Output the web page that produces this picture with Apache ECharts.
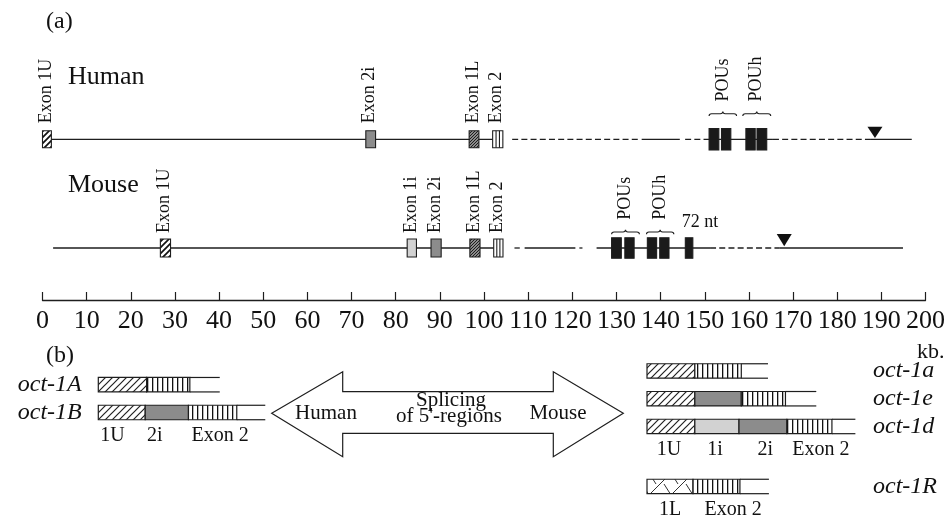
<!DOCTYPE html>
<html><head><meta charset="utf-8">
<script src="https://cdn.jsdelivr.net/npm/echarts@6/dist/echarts.min.js"></script>
<style>html,body{margin:0;padding:0;background:#fff}#c{width:948px;height:519px}</style>
</head><body><div id="c"></div>
<script>
// ---------------- DATA ----------------
// kb scale
const kbTicks = [0,10,20,30,40,50,60,70,80,90,100,110,120,130,140,150,160,170,180,190,200];

// Human locus: [startKb, endKb, kind, label]
const humanExons = [[0,2.0,'hatch','Exon 1U'],[72.9,75.1,'grey','Exon 2i'],[96.2,98.4,'dense','Exon 1L'],[101.5,103.8,'exon2','Exon 2']];
const humanPou = [[150.3,152.5],[153.1,155.2],[158.6,160.7],[161.1,163.3]];
const humanLine = [[0,103.8,'solid'],[105.9,134.7,'dashed'],[135.1,143.7,'solid'],[144.9,150.3,'dashed'],[150.3,164.7,'solid'],[164.7,186.6,'dashed'],[186.6,196.0,'solid']];
const humanDomains = [[150.3,156.5,'POUs'],[157.9,164.2,'POUh']];
const humanPolyA = [187.7];

// Mouse locus
const mouseExons = [[26.7,29.0,'hatch','Exon 1U'],[82.6,84.7,'light','Exon 1i'],[88.0,90.3,'grey','Exon 2i'],[96.8,99.1,'dense','Exon 1L'],[102.2,104.3,'exon2','Exon 2']];
const mousePou = [[128.9,131.1],[131.9,134.0],[137.0,139.1],[139.8,141.9],[145.6,147.3]];
const mouseLine = [[2.4,104.3,'solid'],[106.9,108.1,'solid'],[109.2,120.7,'solid'],[121.6,122.3,'solid'],[125.5,151.2,'solid'],[151.2,167.0,'dashed'],[167.0,194.9,'solid']];
const mouseDomains = [[128.9,135.2,'POUs'],[136.8,143.0,'POUh']];
const mouseNotes = [[148.9,'72 nt']];
const mousePolyA = [168.0];

// Panel (b): splice variants, segment lengths in exon-block units
const humanIsoforms = ['oct-1A','oct-1B'];
const humanSegments = [
  [['hatch',1.05],['stripe',0.94],['open',0.65]],
  [['hatch',1.02],['grey',0.94],['stripe',1.05],['open',0.62]]
];
const humanSegLabels = [['1U',0.31],['2i',1.23],['Exon 2',2.65]];

const mouseIsoforms = ['oct-1a','oct-1e','oct-1d'];
const mouseSegments = [
  [['hatch',1.04],['stripe',1.01],['open',0.58]],
  [['hatch',1.04],['grey',1.01],['stripe',0.96],['open',0.67]],
  [['hatch',1.04],['light',0.96],['grey',1.04],['stripe',0.98],['open',0.51]]
];
const mouseSegLabels = [['1U',0.48],['1i',1.48],['2i',2.57],['Exon 2',3.78]];

const altIsoforms = ['oct-1R'];
const altSegments = [[['cross',1.0],['stripe',1.02],['open',0.63]]];
const altSegLabels = [['1L',0.5],['Exon 2',1.87]];

// ---------------- STYLE ----------------
const SERIF = '"Liberation Serif","Times New Roman",serif';
const INK = '#1e1e1e';
const KINDS = ['hatch','grey','light','dense','exon2','pou','stripe','open','cross','hatchThin'];

function pat(w,h,draw){const c=document.createElement('canvas');c.width=w;c.height=h;const g=c.getContext('2d');draw(g,w,h);return {image:c,repeat:'repeat'};}
function diag(g,s,lw,col){g.strokeStyle=col;g.lineWidth=lw;g.beginPath();g.moveTo(-1,1);g.lineTo(1,-1);g.moveTo(0,s);g.lineTo(s,0);g.moveTo(s-1,s+1);g.lineTo(s+1,s-1);g.stroke();}
const FILLS = {
  hatch: pat(6,6,(g,w,h)=>{g.fillStyle='#fff';g.fillRect(0,0,w,h);diag(g,6,1.7,'#111');}),
  hatchThin: pat(7,7,(g,w,h)=>{g.fillStyle='#fff';g.fillRect(0,0,w,h);diag(g,7,1.2,'#222');}),
  dense: pat(3,3,(g,w,h)=>{g.fillStyle='#8a8a8a';g.fillRect(0,0,w,h);diag(g,3,0.9,'#111');}),
  grey: '#8c8c8c',
  light: '#d2d2d2',
  exon2: '#fff',
  pou: '#1a1a1a',
  stripe: pat(5,5,(g,w,h)=>{g.fillStyle='#fff';g.fillRect(0,0,w,h);g.fillStyle='#111';g.fillRect(2,0,1.3,h);}),
  cross: pat(22,22,(g,w,h)=>{g.fillStyle='#fff';g.fillRect(0,0,w,h);g.strokeStyle='#333';g.lineWidth=1;g.beginPath();g.moveTo(0,22);g.lineTo(22,0);g.moveTo(4,0);g.lineTo(18,22);g.stroke();}),
  open: '#fff'
};

const TRACK = {
  human: {exonH:17, pouH:21.5, labelGap:16, braceBottom:23.3, triTop:12.6, triTip:1.2, noteGap:26},
  mouse: {exonH:18, pouH:20.6, labelGap:15, braceBottom:13.7, triTop:14, triTip:1.8, noteGap:26}
};

// ---------------- RENDERERS ----------------
function lineRender(src){return function(params,api){
  const d=src[params.dataIndex];
  const p0=api.coord([d[0],0]), p1=api.coord([d[1],0]);
  return {type:'line',shape:{x1:p0[0],y1:p0[1],x2:p1[0],y2:p1[1]},
    style:{stroke:INK,lineWidth:1.3,lineDash:d[2]==='dashed'?[6,3.2]:null}};
};}
function boxRender(src,cfg,defKind){return function(params,api){
  const d=src[params.dataIndex];
  const kind=d[2]||defKind;
  const p0=api.coord([d[0],0]), p1=api.coord([d[1],0]);
  const h=kind==='pou'?cfg.pouH:cfg.exonH;
  const x=p0[0], w=p1[0]-p0[0], y=p0[1]-h/2;
  const ch=[{type:'rect',shape:{x:x,y:y,width:w,height:h},style:{fill:FILLS[kind],stroke:INK,lineWidth:1.1}}];
  if(kind==='exon2'){for(let k=1;k<3;k++){const xx=x+w*k/3;ch.push({type:'line',shape:{x1:xx,y1:y,x2:xx,y2:y+h},style:{stroke:INK,lineWidth:1.1}});}}
  if(d[3]){ch.push({type:'text',x:x+w/2-1,y:p0[1]-cfg.labelGap,rotation:Math.PI/2,
    style:{text:d[3],fontFamily:SERIF,fontSize:18,fill:'#111',align:'left',verticalAlign:'middle'}});}
  return {type:'group',children:ch};
};}
function braceRender(src,cfg){return function(params,api){
  const d=src[params.dataIndex];
  const p0=api.coord([d[0],0]), p1=api.coord([d[1],0]);
  const x0=p0[0], x1=p1[0], xm=(x0+x1)/2, yb=p0[1]-cfg.braceBottom, ym=yb-2.3, yp=yb-4.5;
  const path='M'+x0+' '+yb+' Q'+x0+' '+ym+' '+(x0+2.5)+' '+ym+' L'+(xm-2.5)+' '+ym+' Q'+xm+' '+ym+' '+xm+' '+yp+
    ' Q'+xm+' '+ym+' '+(xm+2.5)+' '+ym+' L'+(x1-2.5)+' '+ym+' Q'+x1+' '+ym+' '+x1+' '+yb;
  return {type:'group',children:[
    {type:'path',shape:{pathData:path},style:{fill:null,stroke:INK,lineWidth:1.1}},
    {type:'text',x:xm,y:yp-10,rotation:Math.PI/2,style:{text:d[2],fontFamily:SERIF,fontSize:18,fill:'#111',align:'left',verticalAlign:'middle'}}
  ]};
};}
function triRender(src,cfg){return function(params,api){
  const p=api.coord([src[params.dataIndex],0]);
  return {type:'polygon',shape:{points:[[p[0]-7.5,p[1]-cfg.triTop],[p[0]+7.5,p[1]-cfg.triTop],[p[0],p[1]-cfg.triTip]]},style:{fill:'#111'}};
};}
function noteRender(src,cfg){return function(params,api){
  const d=src[params.dataIndex];const p=api.coord([d[0],0]);
  return {type:'text',x:p[0],y:p[1]-cfg.noteGap,style:{text:d[1],fontFamily:SERIF,fontSize:18,fill:'#111',align:'center',verticalAlign:'middle'}};
};}

function segData(segs){const out=[];segs.forEach((row,ri)=>{let acc=0;row.forEach(s=>{out.push([ri,acc,acc+s[1],KINDS.indexOf(s[0])]);acc+=s[1];});});return out;}
function segRender(params,api){
  const row=api.value(0), kind=KINDS[api.value(3)];
  const p0=api.coord([api.value(1),row]), p1=api.coord([api.value(2),row]);
  const h=api.size([0,1])[1]*0.52;
  const x=p0[0], w=p1[0]-p0[0], y=p0[1]-h/2;
  if(kind==='open'){return {type:'group',children:[
    {type:'line',shape:{x1:x,y1:y,x2:x+w,y2:y},style:{stroke:INK,lineWidth:1.2}},
    {type:'line',shape:{x1:x,y1:y+h,x2:x+w,y2:y+h},style:{stroke:INK,lineWidth:1.2}}]};}
  const f=kind==='hatch'?FILLS.hatchThin:FILLS[kind];
  return {type:'rect',shape:{x:x,y:y,width:w,height:h},style:{fill:f,stroke:INK,lineWidth:1.2}};
}
function segLabelRender(src,row){return function(params,api){
  const d=src[params.dataIndex];const p=api.coord([d[1],row]);
  return {type:'text',x:p[0],y:p[1]+23,style:{text:d[0],fontFamily:SERIF,fontSize:20,fill:'#111',align:'center',verticalAlign:'middle'}};
};}

function custom(gi,data,render,z){return {type:'custom',xAxisIndex:gi,yAxisIndex:gi,data:data,renderItem:render,clip:false,silent:true,z:z||2,encode:{x:0,y:1}};}
function idx(a){return a.map((_,i)=>[i]);}

const blank={show:false};
const catY=(gi,cats,pos,margin)=>({gridIndex:gi,type:'category',inverse:true,data:cats,position:pos,
  axisLine:blank,axisTick:blank,splitLine:blank,
  axisLabel:{interval:0,fontFamily:SERIF,fontStyle:'italic',fontSize:24,color:'#111',margin:margin,align:pos==='left'?'right':'left'}});

const option={
  animation:false,
  backgroundColor:'#fff',
  grid:[
    {left:42.5,right:18.5,top:100,height:78.6},
    {left:42.5,right:18.5,top:196,height:104},
    {left:98.3,width:184,top:370.8,height:55.6},
    {left:647,width:211.6,top:357.1,height:83.25},
    {left:647,width:211.6,top:472.6,height:27.75}
  ],
  xAxis:[
    {gridIndex:0,type:'value',min:0,max:200,show:false},
    {gridIndex:1,type:'value',min:0,max:200,interval:10,
      axisLine:{show:true,onZero:false,lineStyle:{color:INK,width:1.3}},
      axisTick:{show:true,inside:true,length:8,lineStyle:{color:INK,width:1.2}},
      axisLabel:{fontFamily:SERIF,fontSize:26,color:'#111',margin:8,formatter:v=>String(kbTicks[Math.round(v/10)])},
      splitLine:blank},
    {gridIndex:2,type:'value',min:0,max:4,show:false},
    {gridIndex:3,type:'value',min:0,max:4.6,show:false},
    {gridIndex:4,type:'value',min:0,max:4.6,show:false}
  ],
  yAxis:[
    {gridIndex:0,type:'value',min:-1,max:1,show:false},
    {gridIndex:1,type:'value',min:-1,max:1,show:false},
    catY(2,humanIsoforms,'left',16.6),
    catY(3,mouseIsoforms,'right',14.4),
    catY(4,altIsoforms,'right',14.4)
  ],
  series:[
    custom(0,idx(humanLine),lineRender(humanLine),1),
    custom(0,idx(humanExons),boxRender(humanExons,TRACK.human)),
    custom(0,idx(humanPou),boxRender(humanPou,TRACK.human,'pou')),
    custom(0,idx(humanDomains),braceRender(humanDomains,TRACK.human)),
    custom(0,idx(humanPolyA),triRender(humanPolyA,TRACK.human)),
    custom(1,idx(mouseLine),lineRender(mouseLine),1),
    custom(1,idx(mouseExons),boxRender(mouseExons,TRACK.mouse)),
    custom(1,idx(mousePou),boxRender(mousePou,TRACK.mouse,'pou')),
    custom(1,idx(mouseDomains),braceRender(mouseDomains,TRACK.mouse)),
    custom(1,idx(mouseNotes),noteRender(mouseNotes,TRACK.mouse)),
    custom(1,idx(mousePolyA),triRender(mousePolyA,TRACK.mouse)),
    Object.assign(custom(2,segData(humanSegments),segRender),{encode:{x:[1,2],y:0}}),
    custom(2,idx(humanSegLabels),segLabelRender(humanSegLabels,1)),
    Object.assign(custom(3,segData(mouseSegments),segRender),{encode:{x:[1,2],y:0}}),
    custom(3,idx(mouseSegLabels),segLabelRender(mouseSegLabels,2)),
    Object.assign(custom(4,segData(altSegments),segRender),{encode:{x:[1,2],y:0}}),
    custom(4,idx(altSegLabels),segLabelRender(altSegLabels,0))
  ],
  graphic:[
    {type:'text',left:46,top:10,style:{text:'(a)',fontFamily:SERIF,fontSize:24,fill:'#111'}},
    {type:'text',x:68,y:77,style:{text:'Human',fontFamily:SERIF,fontSize:26,fill:'#111',verticalAlign:'middle'}},
    {type:'text',x:68,y:185.5,style:{text:'Mouse',fontFamily:SERIF,fontSize:26,fill:'#111',verticalAlign:'middle'}},
    {type:'text',x:917,y:352,style:{text:'kb.',fontFamily:SERIF,fontSize:22,fill:'#111',verticalAlign:'middle'}},
    {type:'text',x:46,y:356,style:{text:'(b)',fontFamily:SERIF,fontSize:24,fill:'#111',verticalAlign:'middle'}},
    {type:'polygon',shape:{points:[[271.7,413.3],[342.7,371.7],[342.7,391.7],[553.3,391.7],[553.3,371.7],[623.3,413.3],[553.3,456.7],[553.3,433.3],[342.7,433.3],[342.7,456.7]]},
      style:{fill:'#fff',stroke:INK,lineWidth:1.2}},
    {type:'text',x:326,y:413,style:{text:'Human',fontFamily:SERIF,fontSize:21,fill:'#111',align:'center',verticalAlign:'middle'}},
    {type:'text',x:451,y:400,style:{text:'Splicing',fontFamily:SERIF,fontSize:21,fill:'#111',align:'center',verticalAlign:'middle'}},
    {type:'text',x:449,y:416,style:{text:"of 5'-regions",fontFamily:SERIF,fontSize:21,fill:'#111',align:'center',verticalAlign:'middle'}},
    {type:'text',x:558,y:413,style:{text:'Mouse',fontFamily:SERIF,fontSize:21,fill:'#111',align:'center',verticalAlign:'middle'}}
  ]
};
const chart=echarts.init(document.getElementById('c'));
chart.setOption(option);
</script></body></html>
